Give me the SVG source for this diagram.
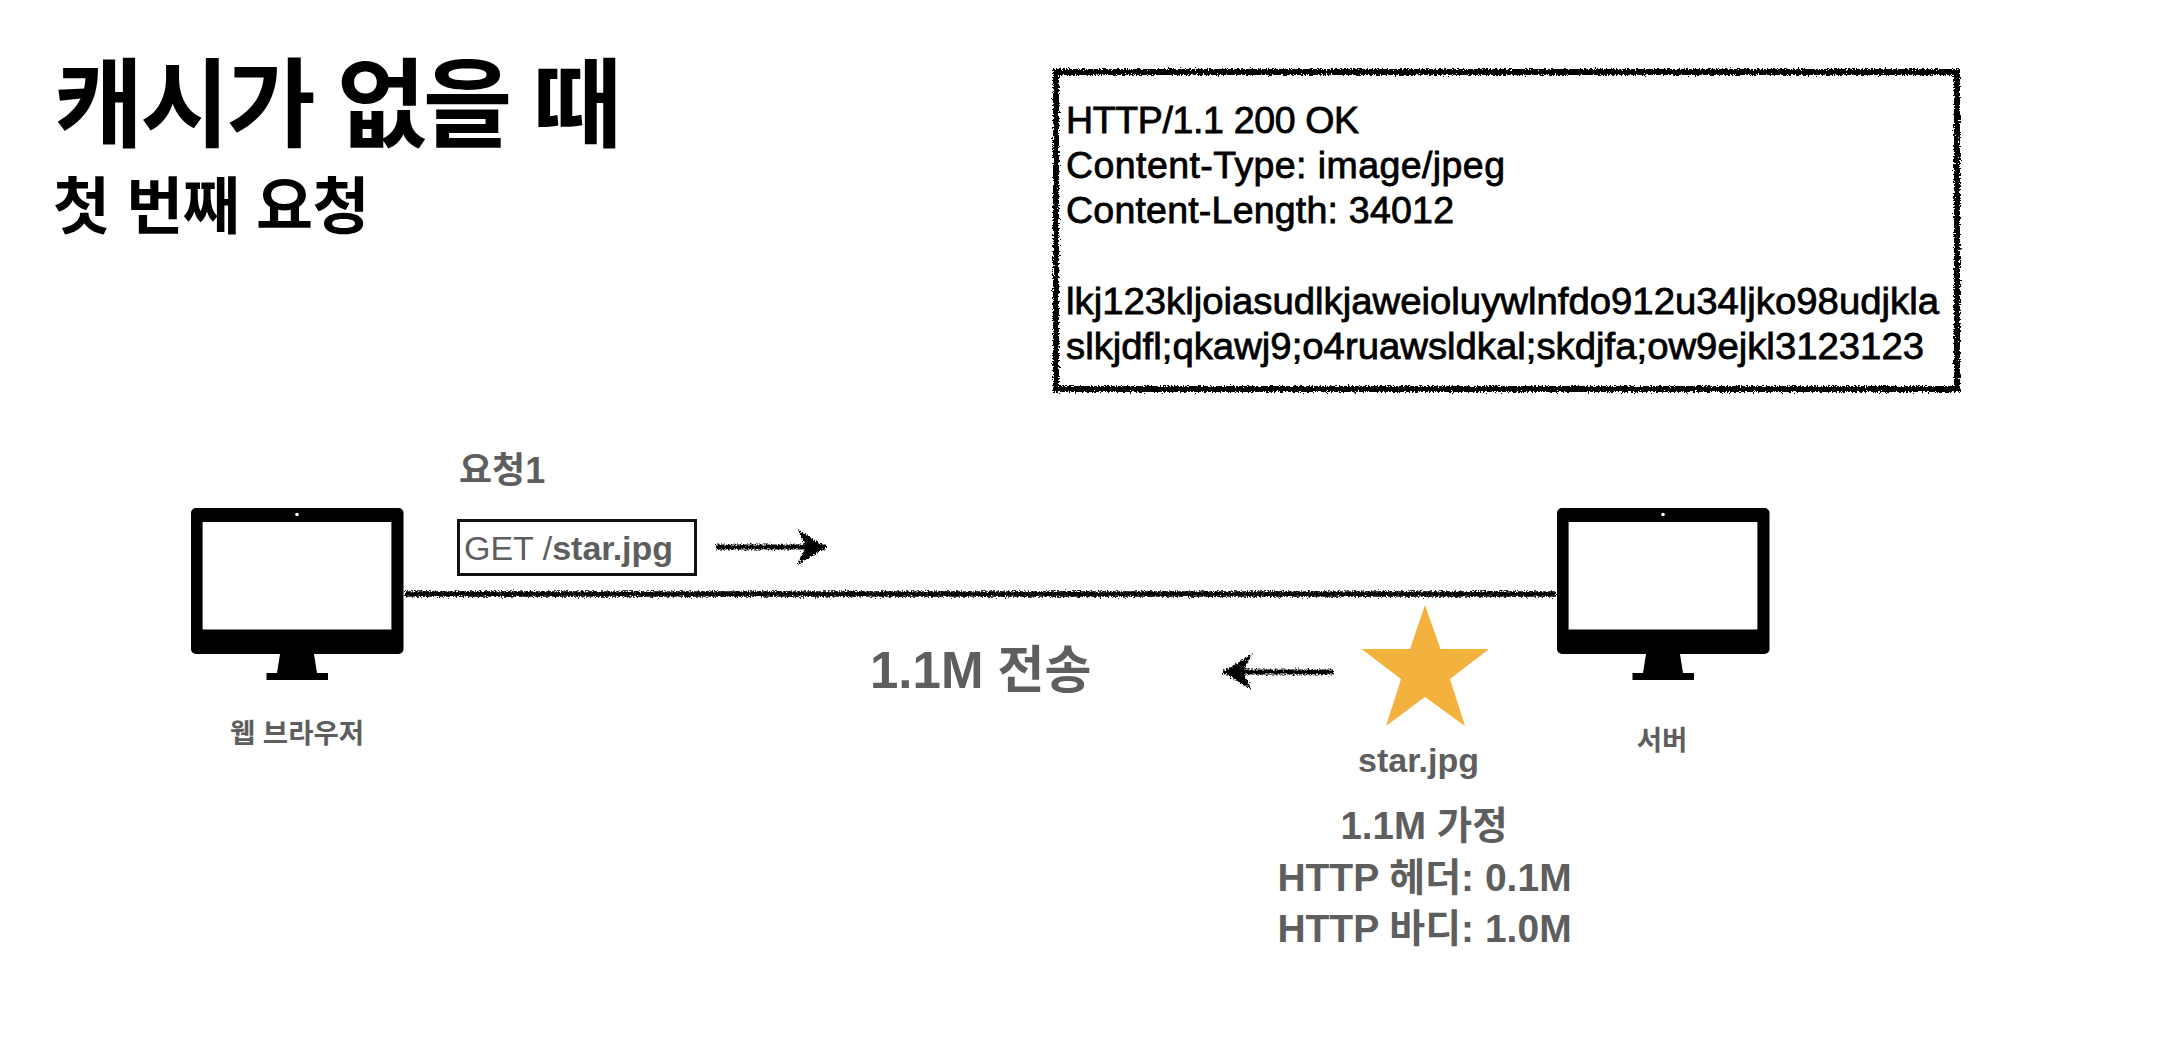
<svg xmlns="http://www.w3.org/2000/svg" width="2174" height="1056" viewBox="0 0 2174 1056">
<style>
text{font-family:"Liberation Sans","Noto Sans CJK KR",sans-serif;font-weight:700;fill:#5e5e5e}
.h{fill:#000}
.c{text-anchor:middle}
.b{font-weight:400;fill:#000;font-size:37.500px;stroke:#000;stroke-width:.8}
.rough{fill:none;stroke:#000}
</style>
<defs>
<filter id="r" filterUnits="userSpaceOnUse" x="0" y="0" width="2174" height="1056">
<feTurbulence type="fractalNoise" baseFrequency="0.6" numOctaves="2" seed="4" result="n"/>
<feDisplacementMap in="SourceGraphic" in2="n" scale="6" xChannelSelector="R" yChannelSelector="G"/>
</filter>
<marker id="head" markerUnits="userSpaceOnUse" markerWidth="32" markerHeight="38" refX="30" refY="18" orient="auto">
<path d="M1 0 L30 18 L1 36 L10 18Z" fill="#000"/>
</marker>
<g id="monitor">
<path fill-rule="evenodd" d="M5 0H207.500a5 5 0 0 1 5 5V141a5 5 0 0 1-5 5H5a5 5 0 0 1-5-5V5a5 5 0 0 1 5-5ZM11.600 14V121.500H200.400V14Z"/>
<circle cx="106" cy="6.500" r="1.800" fill="#fff"/>
<path d="M89 146H123L126 165H137V172H75.500V165H86Z"/>
</g>
</defs>
<rect width="2174" height="1056" fill="#fff"/>
<g id="title">
<text class="h" x="54" y="139" font-size="97" letter-spacing="-3">캐시가 없을 때</text>
<text class="h" x="53" y="229" font-size="62" letter-spacing="-.5">첫 번째 요청</text>
</g>
<g id="response">
<rect class="rough" x="1056" y="72" width="901" height="317" stroke-width="6" filter="url(#r)"/>
<text class="b" x="1066" y="133" textLength="293">HTTP/1.1 200 OK</text>
<text class="b" x="1066" y="178" textLength="439">Content-Type: image/jpeg</text>
<text class="b" x="1066" y="223" textLength="388">Content-Length: 34012</text>
<text class="b" x="1066" y="314" textLength="873" lengthAdjust="spacingAndGlyphs">lkj123kljoiasudlkjaweioluywlnfdo912u34ljko98udjkla</text>
<text class="b" x="1066" y="359" textLength="858" lengthAdjust="spacingAndGlyphs">slkjdfl;qkawj9;o4ruawsldkal;skdjfa;ow9ejkl3123123</text>
</g>
<g id="browser">
<use href="#monitor" x="191" y="508"/>
<text class="c" x="297" y="743" font-size="27.500">웹 브라우저</text>
</g>
<g id="server">
<use href="#monitor" x="1557" y="508"/>
<text class="c" x="1662" y="750" font-size="27.500">서버</text>
</g>
<g id="request">
<text x="459" y="483" font-size="36">요청1</text>
<rect x="458.500" y="520.500" width="237" height="54" fill="none" stroke="#111" stroke-width="3"/>
<text x="464" y="560" font-size="34"><tspan font-weight="400">GET /</tspan>star.jpg</text>
</g>
<g id="transfer">
<text x="870" y="688" font-size="51">1.1M 전송</text>
</g>
<g id="star">
<path d="M1425 605L1440.500 649H1489L1450 679L1465 726L1425 697L1386 726L1401 679L1361.500 649H1410Z" fill="#f3b13e"/>
<text class="c" x="1418.500" y="772" font-size="34">star.jpg</text>
<text class="c" x="1424" y="839" font-size="38.500">1.1M 가정</text>
<text class="c" x="1424.500" y="891" font-size="39">HTTP 헤더: 0.1M</text>
<text class="c" x="1424.500" y="942" font-size="39">HTTP 바디: 1.0M</text>
</g>
<g id="connectors" filter="url(#r)" fill="none" stroke="#000">
<path d="M405 594H1556" stroke-width="5.500"/>
<path d="M716 547H826" stroke-width="5" marker-end="url(#head)"/>
<path d="M1334 672H1223" stroke-width="5" marker-end="url(#head)"/>
</g>
</svg>
